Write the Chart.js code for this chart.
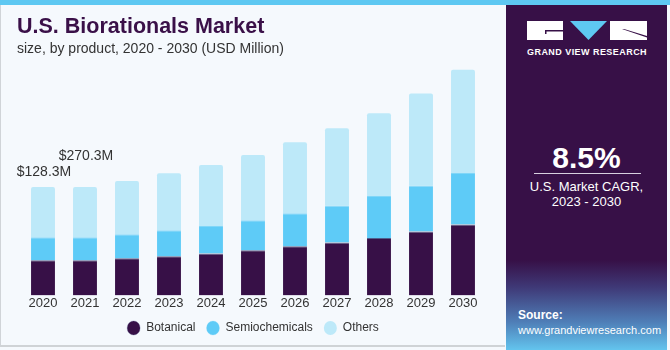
<!DOCTYPE html>
<html>
<head>
<meta charset="utf-8">
<script src="https://cdn.jsdelivr.net/npm/chart.js@4.4.0/dist/chart.umd.min.js"></script>
<style>
  body { margin: 0; width: 670px; height: 350px; overflow: hidden; font-family: "Liberation Sans", Arial, sans-serif; }
  #wrap { position: relative; width: 670px; height: 350px; background: #f5f9fd; }
  #topbar { position: absolute; left: 0; top: 0; width: 670px; height: 5px; background: #5ec8f2; }
  #left { position: absolute; left: 0; top: 5px; width: 505px; height: 342px; border-left: 1px solid #d0d4d8; border-bottom: 2px solid #cfd3d6; box-sizing: border-box; }
  #title { position: absolute; left: 17px; top: 14px; font-size: 21.5px; font-weight: bold; color: #3a1048; }
  #subtitle { position: absolute; left: 17px; top: 40px; font-size: 14px; color: #333; }
  #chartBox { position: absolute; left: 0; top: 0; width: 506px; height: 350px; }
  #side { position: absolute; left: 506px; top: 5px; width: 161px; height: 345px;
          background: linear-gradient(to bottom, #371047 0%, #371047 74%, #3f3a78 82%, #4f7fb8 92%, #63c4ee 100%); }
  #side .big { position: absolute; left: 0; width: 161px; top: 136px; text-align: center; color: #fff; font-size: 30px; font-weight: bold; }
  #side .rule { position: absolute; left: 28px; width: 107px; top: 168px; height: 1px; background: #d8d0e0; }
  #side .cagr { position: absolute; left: 0; width: 161px; top: 174px; text-align: center; color: #fff; font-size: 13px; line-height: 15px; }
  #side .src { position: absolute; left: 12px; top: 303px; color: #fff; font-size: 11px; line-height: 15px; }
  #side .src b { font-size: 12px; }
  #side .brand { position: absolute; left: 21px; top: 42px; color: #fff; font-size: 9px; font-weight: bold; letter-spacing: 0.45px; }
  #logo { position: absolute; left: 21px; top: 16px; }
</style>
</head>
<body>
<div id="wrap">
  <div id="left"></div>
  <div id="chartBox"><canvas id="chart" width="506" height="350"></canvas></div>
  <div id="title">U.S. Biorationals Market</div>
  <div id="subtitle">size, by product, 2020 - 2030 (USD Million)</div>
  <div id="side">
    <svg id="logo" width="122" height="20" viewBox="0 0 122 20">
      <rect x="0" y="0" width="36" height="19" fill="#fff"/>
      <rect x="18" y="9" width="18" height="1.5" fill="#371047"/>
      <rect x="18" y="9" width="1.5" height="4" fill="#371047"/>
      <polygon points="43,0 80,0 61.5,19" fill="#5ec8f2"/>
      <rect x="83" y="0" width="37" height="19" fill="#fff"/>
      <polygon points="95,8 97,8 120,15 120,16.5" fill="#371047"/>
    </svg>
    <div class="brand">GRAND VIEW RESEARCH</div>
    <div class="big">8.5%</div>
    <div class="rule"></div>
    <div class="cagr">U.S. Market CAGR,<br>2023 - 2030</div>
    <div class="src"><b>Source:</b><br>www.grandviewresearch.com</div>
  </div>
  <div id="topbar"></div>
</div>
<script>
const years = ['2020', '2021', '2022', '2023', '2024', '2025', '2026', '2027', '2028', '2029', '2030'];
const botanical = [87.6, 87.6, 92.6, 97.6, 104.4, 112.6, 122.6, 131.9, 143.4, 159.4, 177.0];
const semiochemicals = [57.6, 57.6, 60.1, 65.1, 69.1, 75.1, 82.6, 92.6, 104.4, 115.1, 128.4];
const others = [125.2, 125.2, 132.7, 141.9, 151.9, 162.7, 177.0, 192.7, 207.0, 229.3, 257.8];
const callouts = [{ index: 0, text: '$128.3M', lift: 15 }, { index: 1, text: '$270.3M', lift: 31 }];

const calloutPlugin = {
    id: 'callouts',
    afterDatasetsDraw(chart) {
        const ctx = chart.ctx;
        const xs = chart.scales.x, ys = chart.scales.y;
        ctx.save();
        ctx.font = '14px "Liberation Sans", Arial, sans-serif';
        ctx.fillStyle = '#333';
        ctx.textAlign = 'center';
        ctx.textBaseline = 'middle';
        callouts.forEach(c => {
            const total = botanical[c.index] + semiochemicals[c.index] + others[c.index];
            ctx.fillText(c.text, xs.getPixelForValue(c.index) + 1, ys.getPixelForValue(total) - c.lift);
        });
        ctx.restore();
    }
};

new Chart(document.getElementById('chart').getContext('2d'), {
    type: 'bar',
    data: {
        labels: years,
        datasets: [
            { label: 'Botanical', data: botanical, backgroundColor: '#371047', borderColor: '#4e5f8c', borderWidth: { top: 1 }, borderSkipped: false },
            { label: 'Semiochemicals', data: semiochemicals, backgroundColor: '#5ecbf7', borderColor: '#80d6f8', borderWidth: { top: 1 }, borderSkipped: false },
            { label: 'Others', data: others, backgroundColor: '#bde9f9', borderRadius: { topLeft: 2, topRight: 2 }, borderSkipped: false }
        ]
    },
    options: {
        responsive: false,
        animation: false,
        layout: { padding: { left: 22, right: 22, top: 55, bottom: 6 } },
        datasets: { bar: { barPercentage: 0.6, categoryPercentage: 0.95 } },
        scales: {
            x: {
                stacked: true,
                grid: { display: false, drawTicks: false },
                border: { display: false },
                ticks: { color: '#333', font: { size: 13, family: '"Liberation Sans", Arial, sans-serif' }, padding: 0 }
            },
            y: { stacked: true, display: false, min: 0, max: 600 }
        },
        plugins: {
            legend: {
                position: 'bottom',
                labels: {
                    usePointStyle: true,
                    pointStyle: 'circle',
                    pointStyleWidth: 13,
                    boxWidth: 10,
                    boxHeight: 10,
                    padding: 11,
                    color: '#333',
                    font: { size: 12, family: '"Liberation Sans", Arial, sans-serif' }
                }
            },
            tooltip: { enabled: false }
        }
    },
    plugins: [calloutPlugin]
});
</script>
</body>
</html>
